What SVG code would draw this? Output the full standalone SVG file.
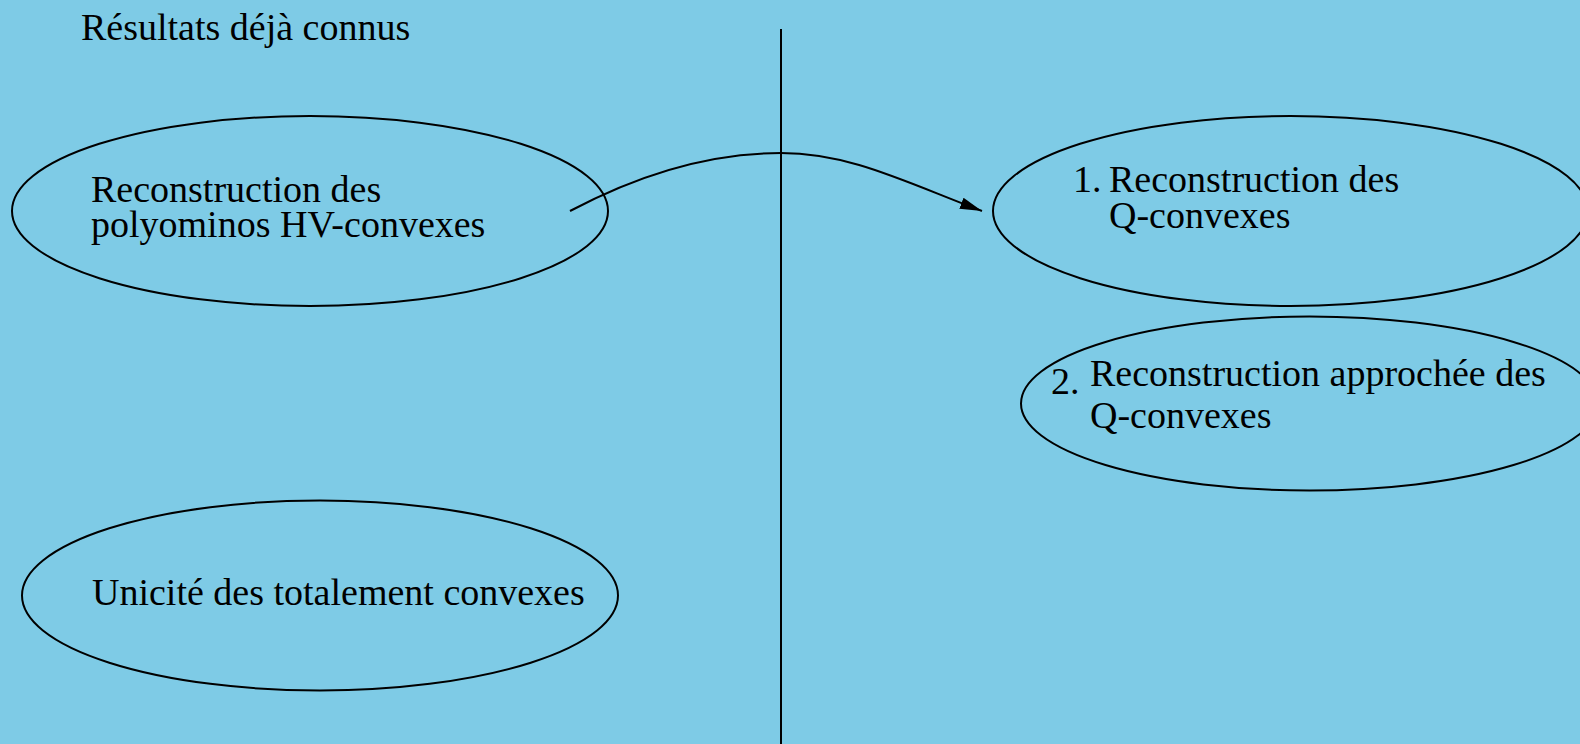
<svg xmlns="http://www.w3.org/2000/svg" width="1580" height="744" viewBox="0 0 1580 744">
<style>
.bg{fill:#7ecbe6}
.node ellipse{fill:none;stroke:#000;stroke-width:2}
text{font-family:"Liberation Serif","Times New Roman",serif;font-size:38px;fill:#000}
.conn{fill:none;stroke:#000;stroke-width:2}
</style>
<defs>
<marker id="arrow" markerUnits="userSpaceOnUse" markerWidth="24" markerHeight="14" refX="22" refY="6" orient="auto" viewBox="0 0 24 12">
<path d="M0,0 L22,6 L0,12 Z" fill="#000"/>
</marker>
</defs>
<rect class="bg" x="0" y="0" width="1580" height="744"/>
<text x="81" y="40">Résultats déjà connus</text>
<g id="n1" class="node">
<ellipse cx="310" cy="211" rx="298" ry="95"/>
<text x="91" y="202">Reconstruction des</text>
<text x="91" y="237">polyominos HV-convexes</text>
</g>
<g id="n2" class="node">
<ellipse cx="320" cy="595.5" rx="298" ry="95"/>
<text x="92" y="605">Unicité des totalement convexes</text>
</g>
<g id="n3" class="node">
<ellipse cx="1290.5" cy="211" rx="297.5" ry="95"/>
<text x="1073" y="192">1.</text>
<text x="1109" y="192">Reconstruction des</text>
<text x="1109" y="228">Q-convexes</text>
</g>
<g id="n4" class="node">
<ellipse cx="1309.5" cy="403.5" rx="288.5" ry="87"/>
<text x="1051" y="394">2.</text>
<text x="1090" y="386">Reconstruction approchée des</text>
<text x="1090" y="428">Q-convexes</text>
</g>
<g id="connectors">
<line class="conn" x1="781" y1="29" x2="781" y2="744"/>
<path class="conn" d="M570,211 C642.7,172.3 713,153 781,153 C850,153 905,182 982,211" marker-end="url(#arrow)"/>
</g>
</svg>
